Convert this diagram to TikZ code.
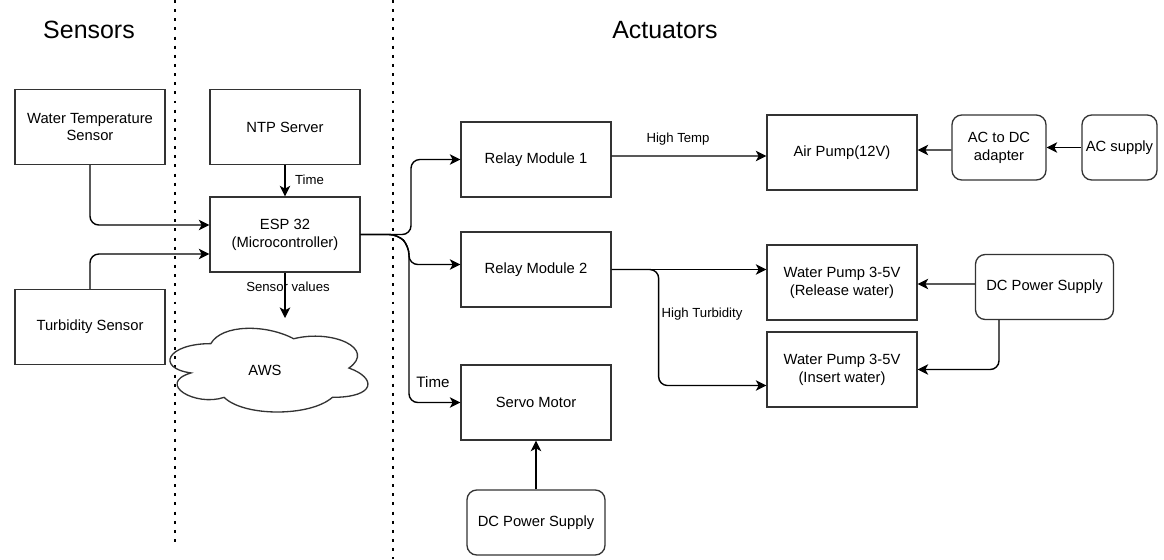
\documentclass[tikz,border=0pt]{standalone}
\usepackage{fontspec}
\setmainfont{Liberation Sans}
\usetikzlibrary{arrows.meta, calc}

\begin{document}
\begin{tikzpicture}[x = 0.02cm, y = -0.02cm,
    box/.style = {shape = rectangle, draw = black!80, line width = 0.75pt, minimum width = 3cm, minimum height = 1.5cm, align = center, font = \fontsize{8.4}{10.2}\selectfont},
    rbox/.style = {box, rounded corners = 5.5pt},
    arr/.style = {draw = black, line width = 0.8pt, rounded corners = 5pt, -{Stealth[length = 6pt, width = 6pt, inset = 1.6pt]}},
    lbl/.style = {font = \fontsize{7.5}{9}\selectfont, inner sep = 1pt},
    ttl/.style = {font = \fontsize{14.2}{17}\selectfont},
    sep/.style = {line width = 1.7pt, dash pattern = on 1.7pt off 3.5pt}]
    \useasboundingbox (0,0) rectangle (1164,559);

    \draw[sep] (175,0) -- (175,545);
    \draw[sep] (393,0) -- (393,559);
    \node[ttl] (SEN) at (89,30) {Sensors};
    \node[ttl] (ACT) at (665,30) {Actuators};

    \node[box] (wts) at (90,127) {Water Temperature\\Sensor};
    \node[box] (turb) at (90,327) {Turbidity Sensor};
    \node[box] (ntp) at (285,127) {NTP Server};
    \node[box] (esp) at (285,234.5) {ESP 32\\(Microcontroller)};
    \begin{scope}[shift = {(155.6,319.2)}, x = 4.42cm, y = -1.954cm]
        \draw[draw = black!80, line width = 0.75pt]
            (0.25,0.25) .. controls (0.05,0.25) and (0,0.5) .. (0.16,0.55)
            .. controls (0,0.66) and (0.18,0.9) .. (0.31,0.8)
            .. controls (0.4,1) and (0.7,1) .. (0.8,0.8)
            .. controls (1,0.8) and (1,0.6) .. (0.875,0.5)
            .. controls (1,0.3) and (0.8,0.1) .. (0.625,0.2)
            .. controls (0.5,0.05) and (0.3,0.05) .. (0.25,0.25) -- cycle;
    \end{scope}
    \node[font = \fontsize{8.4}{10.2}\selectfont] (aws) at (265,370) {AWS};
    \coordinate (awstop) at (285,318);

    \node[box] (relay1) at (536,159.5) {Relay Module 1};
    \node[box] (relay2) at (536,269.5) {Relay Module 2};
    \node[box] (servo) at (536,402.5) {Servo Motor};
    \node[rbox, minimum width = 2.76cm, minimum height = 1.3cm] (dcs) at (536,522.5) {DC Power Supply};

    \node[box] (airpump) at (842,152.5) {Air Pump(12V)};
    \node[rbox, minimum width = 1.88cm, minimum height = 1.3cm] (acdc) at (999,147.5) {AC to DC\\adapter};
    \node[rbox, minimum width = 1.5cm, minimum height = 1.3cm, inner sep = 1pt] (acsup) at (1119.5,147.5) {AC supply};
    \node[box] (release) at (842,282.5) {Water Pump 3-5V\\(Release water)};
    \node[box] (insert) at (842,369.5) {Water Pump 3-5V\\(Insert water)};
    \node[rbox, minimum width = 2.76cm, minimum height = 1.3cm] (dcp) at (1044.5,287) {DC Power Supply};

    \draw[arr] (wts.south) |- ($(esp.west)+(0,-9.5)$);
    \draw[arr] (turb.north) |- ($(esp.west)+(0,19.5)$);
    \draw[arr] (ntp.south) -- (esp.north);
    \node[lbl, anchor = west] (T1) at (293,180) {Time};
    \draw[arr] (esp.south) -- (awstop);
    \node[lbl] (SV) at (288,287) {Sensor values};

    \draw[arr] (esp.east) -- (411,234.5) |- (relay1.west);
    \draw[arr] (esp.east) -- (398,234.5) -- (409,246) |- ($(relay2.west)+(0,-5)$);
    \draw[arr] (esp.east) -- (398,234.5) -- (409,246) |- (servo.west);
    \node[lbl, font = \fontsize{8.6}{10}\selectfont] (T2) at (433,382) {Time};

    \draw[arr] ($(relay1.east)+(0,-3.5)$) -- ($(airpump.west)+(0,3.5)$);
    \node[lbl] (HT) at (678,139) {High Temp};
    \draw[arr] (relay2.east) -- (relay2.east -| release.west);
    \draw[arr] (relay2.east) -- ++(47,0) |- ($(insert.west)+(0,16)$);
    \node[lbl] (HTB) at (702,314) {High Turbidity};

    \draw[arr] (acsup.west) -- (acdc.east);
    \draw[arr] ($(acdc.west)+(0,2.5)$) -- ($(airpump.east)+(0,-2.5)$);
    \draw[arr] ($(dcp.west)+(0,-3)$) -- ($(release.east)+(0,1.5)$);
    \draw[arr] ($(dcp.south)+(-45.5,0)$) |- (insert.east);
    \draw[arr] (dcs.north) -- (servo.south);
\end{tikzpicture}
\end{document}
